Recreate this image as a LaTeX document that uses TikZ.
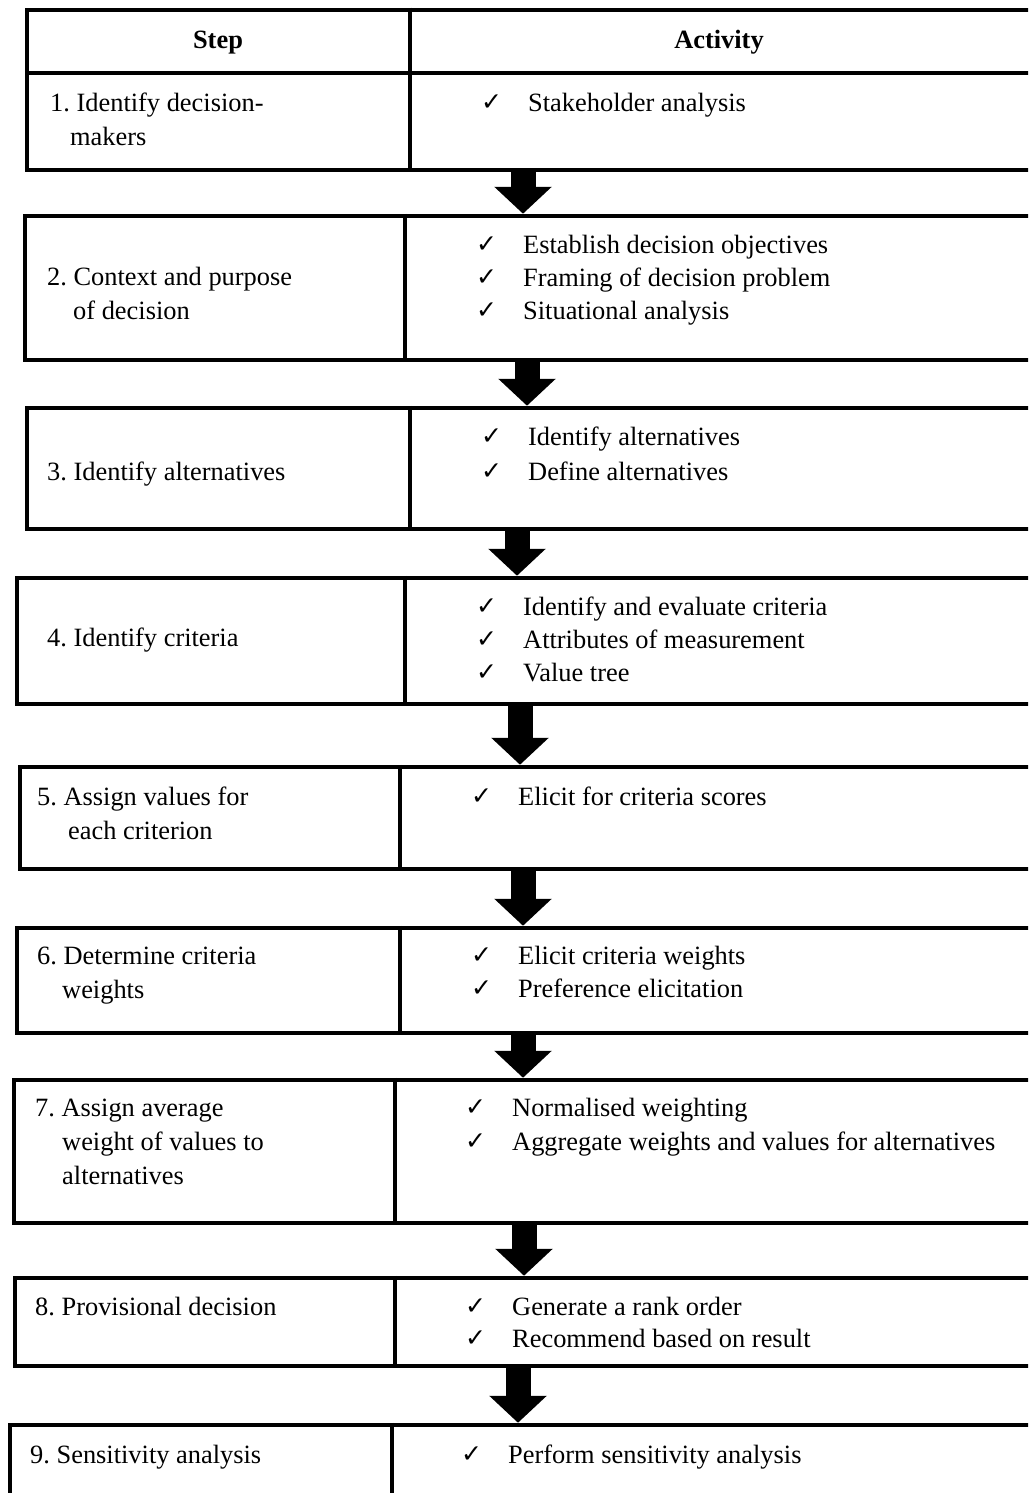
\documentclass[tikz,border=0pt]{standalone}
\usepackage{fontspec}
\setmainfont{Liberation Serif}
\newfontfamily\chkfont{DejaVu Sans}
\usetikzlibrary{arrows.meta,fit}
\frenchspacing
\tikzset{
  box/.style={draw, line width=4.5pt, inner sep=0pt, rectangle},
  rule/.style={line width=4pt},
  bigarrow/.style={line width=25pt, line cap=butt, -{Triangle[length=27pt 0 0, width=56pt 0 0]}},
  txt/.style={anchor=base west, inner sep=0pt, font=\fontsize{26.4pt}{33pt}\selectfont\frenchspacing},
  hdr/.style={anchor=base, inner sep=0pt, font=\fontsize{26.4pt}{33pt}\selectfont\bfseries},
  tick/.style={anchor=base west, inner sep=0pt, font=\chkfont\fontsize{25pt}{30pt}\selectfont, yshift=1pt},
}
\newcommand{\actline}[4]{% name, x(text), baseline y, text
  \node[tick] (#1c) at (#2-47,#3) {✓};
  \node[txt] (#1t) at (#2,#3) {#4};
}
\begin{document}
\begin{tikzpicture}[x=1pt,y=-1pt]
\useasboundingbox (0,0) rectangle (1028,1493);
\clip (0,0) rectangle (1028,1493);
% boxes
\node[box, fit={(27,10) (1050,170)}] (b1) {};
\node[box, fit={(25,216) (1050,360)}] (b2) {};
\node[box, fit={(27,408) (1050,529)}] (b3) {};
\node[box, fit={(17,578) (1050,704)}] (b4) {};
\node[box, fit={(20,767) (1050,869)}] (b5) {};
\node[box, fit={(17,928) (1050,1033)}] (b6) {};
\node[box, fit={(14,1080) (1050,1223)}] (b7) {};
\node[box, fit={(15,1278) (1050,1366)}] (b8) {};
\node[box, fit={(10,1425) (1050,1520)}] (b9) {};
% header line and dividers
\coordinate (h1) at (27,73);
\coordinate (h2) at (1050,73);
\draw[rule] (h1) -- (h2);
\draw[rule] (b1.north -| 410,0) -- (b1.south -| 410,0);
\draw[rule] (b2.north -| 405,0) -- (b2.south -| 405,0);
\draw[rule] (b3.north -| 410,0) -- (b3.south -| 410,0);
\draw[rule] (b4.north -| 405,0) -- (b4.south -| 405,0);
\draw[rule] (b5.north -| 400,0) -- (b5.south -| 400,0);
\draw[rule] (b6.north -| 400,0) -- (b6.south -| 400,0);
\draw[rule] (b7.north -| 395,0) -- (b7.south -| 395,0);
\draw[rule] (b8.north -| 395,0) -- (b8.south -| 395,0);
\draw[rule] (b9.north -| 392,0) -- (b9.south -| 392,0);
% arrows
\draw[bigarrow] (b1.south -| 523,0) -- (b2.north -| 523,0);
\draw[bigarrow] (b2.south -| 527,0) -- (b3.north -| 527,0);
\draw[bigarrow] (b3.south -| 517,0) -- (b4.north -| 517,0);
\draw[bigarrow] (b4.south -| 520,0) -- (b5.north -| 520,0);
\draw[bigarrow] (b5.south -| 523,0) -- (b6.north -| 523,0);
\draw[bigarrow] (b6.south -| 523,0) -- (b7.north -| 523,0);
\draw[bigarrow] (b7.south -| 524,0) -- (b8.north -| 524,0);
\draw[bigarrow] (b8.south -| 518,0) -- (b9.north -| 518,0);
% header
\node[hdr] (hs) at (218,49) {Step};
\node[hdr] (ha) at (719,49) {Activity};
% row 1
\node[txt] (s1a) at (50,112) {1. Identify decision-};
\node[txt] (s1b) at (70,146) {makers};
\actline{a11}{528}{112}{Stakeholder analysis}
% row 2
\node[txt] (s2a) at (47,285) {2. Context and purpose};
\node[txt] (s2b) at (73,319) {of decision};
\actline{a21}{523}{253}{Establish decision objectives}
\actline{a22}{523}{286}{Framing of decision problem}
\actline{a23}{523}{319}{Situational analysis}
% row 3
\node[txt] (s3a) at (47,480) {3. Identify alternatives};
\actline{a31}{528}{445}{Identify alternatives}
\actline{a32}{528}{480}{Define alternatives}
% row 4
\node[txt] (s4a) at (47,646) {4. Identify criteria};
\actline{a41}{523}{615}{Identify and evaluate criteria}
\actline{a42}{523}{648}{Attributes of measurement}
\actline{a43}{523}{681}{Value tree}
% row 5
\node[txt] (s5a) at (37,805) {5. Assign values for};
\node[txt] (s5b) at (68,839) {each criterion};
\actline{a51}{518}{805}{Elicit for criteria scores}
% row 6
\node[txt] (s6a) at (37,964) {6. Determine criteria};
\node[txt] (s6b) at (62,998) {weights};
\actline{a61}{518}{964}{Elicit criteria weights}
\actline{a62}{518}{997}{Preference elicitation}
% row 7
\node[txt] (s7a) at (35,1116) {7. Assign average};
\node[txt] (s7b) at (62,1150) {weight of values to};
\node[txt] (s7c) at (62,1184) {alternatives};
\actline{a71}{512}{1116}{Normalised weighting}
\actline{a72}{512}{1150}{Aggregate weights and values for alternatives}
% row 8
\node[txt] (s8a) at (35,1315) {8. Provisional decision};
\actline{a81}{512}{1315}{Generate a rank order}
\actline{a82}{512}{1347}{Recommend based on result}
% row 9
\node[txt] (s9a) at (30,1463) {9. Sensitivity analysis};
\actline{a91}{508}{1463}{Perform sensitivity analysis}
\end{tikzpicture}
\end{document}
